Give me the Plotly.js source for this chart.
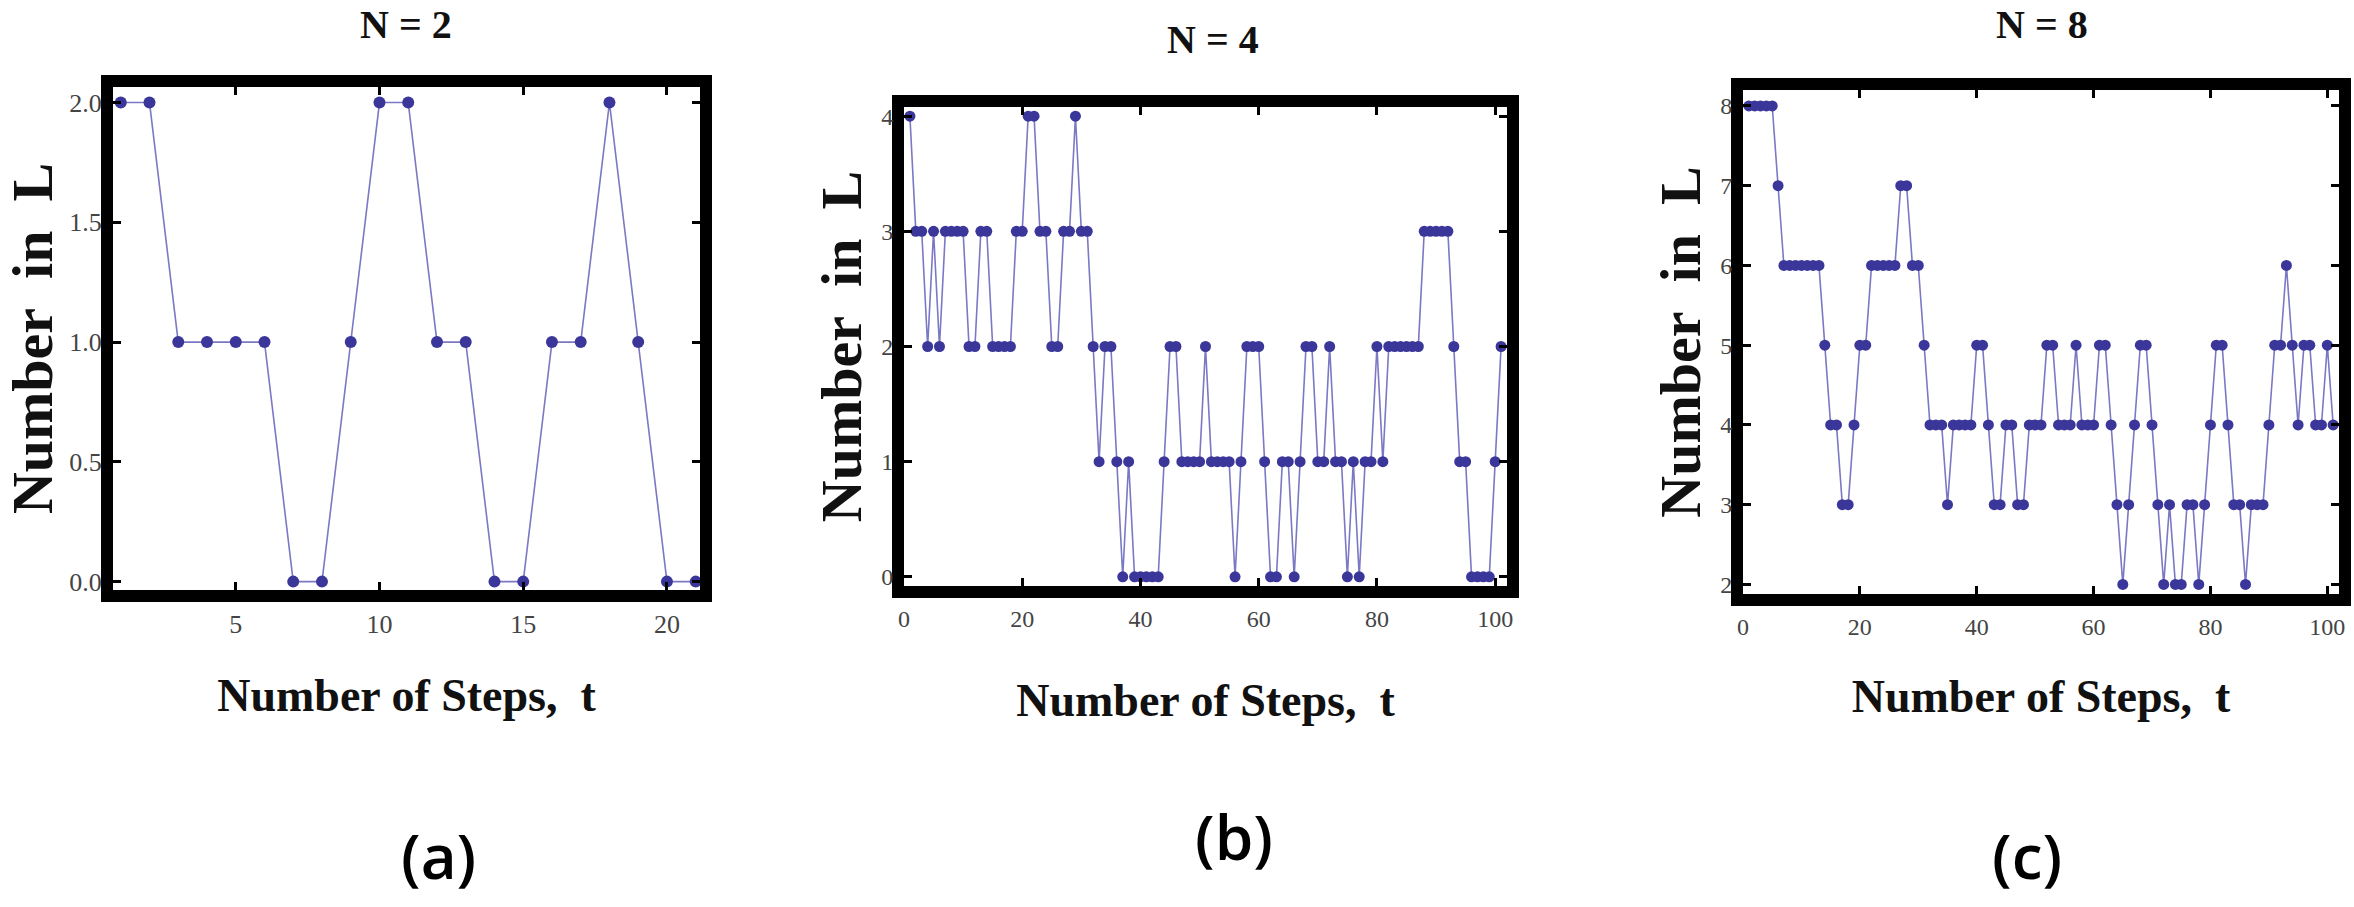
<!DOCTYPE html>
<html>
<head>
<meta charset="utf-8">
<script src="https://cdn.plot.ly/plotly-3.0.1.min.js"></script>
<style>
  html, body { margin: 0; padding: 0; background: #fff; }
  #plot { width: 2354px; height: 907px; }
</style>
</head>
<body>
<div id="plot"></div>
<script>
// Number in L at each step
let valuesN2 = [2, 2, 1, 1, 1, 1, 0, 0, 1, 2, 2, 1, 1, 0, 0, 1, 1, 2, 1, 0, 0];

let valuesN4 = [
  4, 3, 3, 2, 3, 2, 3, 3, 3, 3,
  2, 2, 3, 3, 2, 2, 2, 2, 3, 3,
  4, 4, 3, 3, 2, 2, 3, 3, 4, 3,
  3, 2, 1, 2, 2, 1, 0, 1, 0, 0,
  0, 0, 0, 1, 2, 2, 1, 1, 1, 1,
  2, 1, 1, 1, 1, 0, 1, 2, 2, 2,
  1, 0, 0, 1, 1, 0, 1, 2, 2, 1,
  1, 2, 1, 1, 0, 1, 0, 1, 1, 2,
  1, 2, 2, 2, 2, 2, 2, 3, 3, 3,
  3, 3, 2, 1, 1, 0, 0, 0, 0, 1,
  2
];

let valuesN8 = [
  8, 8, 8, 8, 8, 7, 6, 6, 6, 6,
  6, 6, 6, 5, 4, 4, 3, 3, 4, 5,
  5, 6, 6, 6, 6, 6, 7, 7, 6, 6,
  5, 4, 4, 4, 3, 4, 4, 4, 4, 5,
  5, 4, 3, 3, 4, 4, 3, 3, 4, 4,
  4, 5, 5, 4, 4, 4, 5, 4, 4, 4,
  5, 5, 4, 3, 2, 3, 4, 5, 5, 4,
  3, 2, 3, 2, 2, 3, 3, 2, 3, 4,
  5, 5, 4, 3, 3, 2, 3, 3, 3, 4,
  5, 5, 6, 5, 4, 5, 5, 4, 4, 5,
  4
];

let panelTitles = ["N = 2", "N = 4", "N = 8"];
let panelLabels = ["(a)", "(b)", "(c)"];
let ticksA = [5, 10, 15, 20];
let ticksBC = [0, 20, 40, 60, 80, 100];

const W = 2354, H = 907;
const px = v => v / W;
const py = v => 1 - v / H;

const markerColor = "#3b3699";
const lineColor = "#7b78c4";

function trace(values, xa, ya, size) {
  return {
    y: values,
    x0: 1,
    dx: 1,
    xaxis: xa,
    yaxis: ya,
    mode: "lines+markers",
    line: { color: lineColor, width: 1.6 },
    marker: { color: markerColor, size: size },
    hoverinfo: "skip"
  };
}

let data = [
  trace(valuesN2, "x", "y", 12),
  trace(valuesN4, "x2", "y2", 11),
  trace(valuesN8, "x3", "y3", 11)
];

const tickFont = { family: "Liberation Serif, serif", size: 26, color: "#444" };
const smallTickFont = Object.assign({}, tickFont, { size: 24 });
const xTitleFont = { family: "Liberation Serif, serif", size: 46, color: "#111", weight: "bold" };
const yTitleFont = Object.assign({}, xTitleFont, { size: 58 });

function frameAxis(extra) {
  return Object.assign({
    showline: true,
    linecolor: "#000",
    linewidth: 12,
    mirror: "allticks",
    ticks: "inside",
    ticklen: 8,
    tickwidth: 3,
    tickcolor: "#000",
    showgrid: false,
    zeroline: false,
    tickfont: tickFont,
    fixedrange: true
  }, extra);
}

const nbsp = "\u00a0";
const yTitle = "Number" + nbsp + nbsp + "in" + nbsp + nbsp + "L";
const xTitle = "Number of Steps," + nbsp + nbsp + "t";

let layout = {
  width: W,
  height: H,
  margin: { l: 0, r: 0, t: 0, b: 0 },
  paper_bgcolor: "#fff",
  plot_bgcolor: "#fff",
  showlegend: false,

  xaxis: frameAxis({
    domain: [px(113), px(700)], anchor: "y",
    range: [0.73, 21.15], tickvals: ticksA,
    title: { text: xTitle, font: xTitleFont, standoff: 46 }
  }),
  yaxis: frameAxis({
    domain: [py(590), py(87)], anchor: "x",
    range: [-0.035, 2.065], dtick: 0.5, tickformat: ".1f",
    ticklabelstandoff: -6,
    title: { text: yTitle, font: yTitleFont, standoff: 6 }
  }),

  xaxis2: frameAxis({
    domain: [px(904), px(1507)], anchor: "y2",
    range: [0, 102], tickvals: ticksBC,
    tickfont: smallTickFont,
    title: { text: xTitle, font: xTitleFont, standoff: 58 }
  }),
  yaxis2: frameAxis({
    domain: [py(586), py(107)], anchor: "x2",
    range: [-0.08, 4.08], dtick: 1,
    tickfont: smallTickFont,
    ticklabelstandoff: -6,
    title: { text: yTitle, font: yTitleFont, standoff: 6 }
  }),

  xaxis3: frameAxis({
    domain: [px(1743), px(2339)], anchor: "y3",
    range: [0, 102], tickvals: ticksBC,
    tickfont: smallTickFont,
    title: { text: xTitle, font: xTitleFont, standoff: 46 }
  }),
  yaxis3: frameAxis({
    domain: [py(594), py(90)], anchor: "x3",
    range: [1.88, 8.2], dtick: 1,
    tickfont: smallTickFont,
    ticklabelstandoff: -6,
    title: { text: yTitle, font: yTitleFont, standoff: 6 }
  }),

  annotations: [
    // panel titles
    { text: panelTitles[0], x: px(406), y: py(24) },
    { text: panelTitles[1], x: px(1213), y: py(40) },
    { text: panelTitles[2], x: px(2042), y: py(24) }
  ].map(a => Object.assign(a, {
    xref: "paper", yref: "paper", showarrow: false,
    xanchor: "center", yanchor: "middle",
    font: { family: "Liberation Serif, serif", size: 40, color: "#111", weight: "bold" }
  })).concat([
    // sub-figure labels
    { text: panelLabels[0], x: px(438), y: py(855) },
    { text: panelLabels[1], x: px(1234), y: py(836) },
    { text: panelLabels[2], x: px(2027), y: py(855) }
  ].map(a => Object.assign(a, {
    xref: "paper", yref: "paper", showarrow: false,
    xanchor: "center", yanchor: "middle",
    font: { family: "Open Sans, sans-serif", size: 62, color: "#000", weight: 600 }
  })))
};

Plotly.newPlot("plot", data, layout, { displayModeBar: false, staticPlot: true });
</script>
</body>
</html>
